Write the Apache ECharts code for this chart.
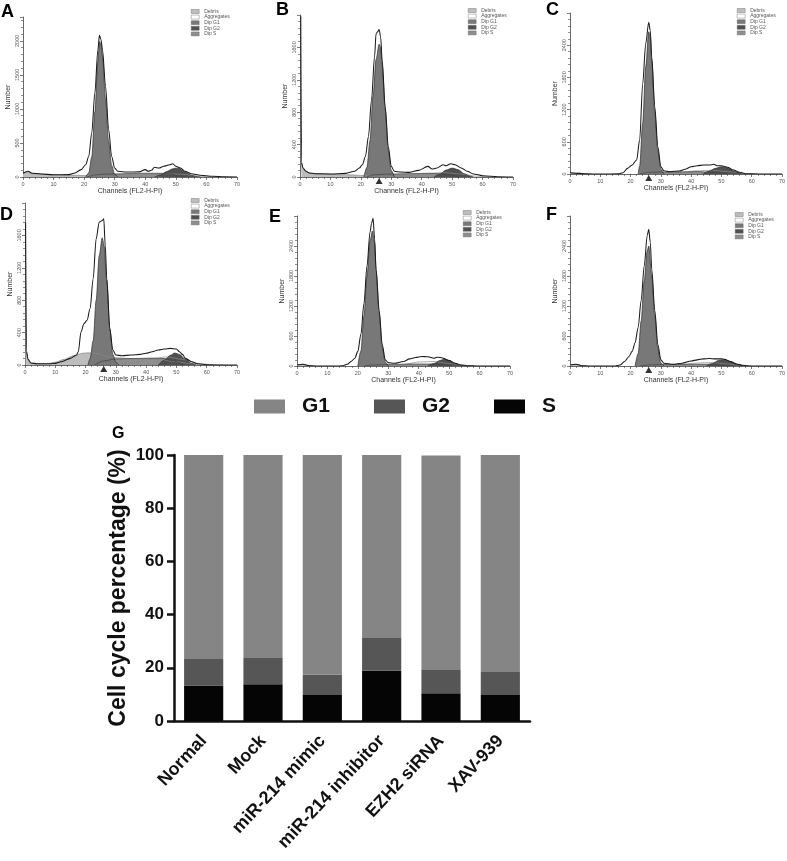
<!DOCTYPE html>
<html><head><meta charset="utf-8">
<script src="https://cdn.jsdelivr.net/npm/echarts@6/dist/echarts.min.js"></script>
<style>html,body{margin:0;padding:0;background:#fff}#c{width:787px;height:861px}</style>
</head><body><div id="c"></div><script>
// ---------- Histogram panels (channel, count) ----------
const phaseNames = ['Debris', 'Aggregates', 'Dip G1', 'Dip G2', 'Dip S'];
const panelLetters = ['A', 'B', 'C', 'D', 'E', 'F'];
const yMaxes = [2350, 2000, 3000, 2000, 3000, 3000];
const ySteps = [500, 400, 600, 400, 600, 600];

const aOutline = [[0,55],[1.6,83],[3,55],[6,45],[10,32],[15,35],[17,60],[19,108],[20.5,180],[21.5,300],[22.5,650],[23.5,1235],[24.5,1870],[25,2080],[25.5,2020],[26,1870],[27,1330],[28,700],[29,300],[30,130],[31,83],[34,73],[38,75],[40,108],[41,83],[42,98],[43,142],[44.5,132],[46,157],[48,181],[49,196],[50,157],[51.5,132],[53,83],[55,49],[58,25],[62,10],[66,3],[70,0]];
const aG1 = [[20.5,0],[21.5,60],[22.5,300],[23.5,950],[24.5,1700],[25,1990],[25.5,1950],[26,1780],[27,1150],[28,520],[29,170],[30,40],[31,0]];
const aG2 = [[43,0],[45,30],[47,80],[49,120],[50,130],[51,125],[53,75],[55,25],[57,5],[58,0]];
const aS = [[21,0],[23,25],[26,40],[30,45],[35,50],[40,55],[45,55],[48,45],[51,15],[53,0]];
const aDebris = [[0,50],[1.6,75],[3,50],[6,40],[10,30],[15,28],[20,22],[25,15],[30,8],[40,2],[45,0]];
const aAggr = [[30,0],[36,15],[42,40],[46,50],[52,40],[58,10],[62,0]];
const aMarker = [];

const bOutline = [[0.25,1990],[0.5,180],[1,110],[2,70],[3,50],[5,41],[10,37],[15,45],[18,70],[19.5,110],[20.5,152],[21.5,254],[22.5,500],[23.5,951],[24.5,1484],[25,1771],[25.5,1792],[26,1820],[26.5,1730],[27,1443],[28,869],[29,377],[30,131],[31,70],[33,62],[36,57],[39,82],[42,131],[43.5,98],[45,111],[47,152],[48,140],[49.5,164],[51,152],[53,111],[55,70],[57,37],[60,16],[65,4],[70,0]];
const bG1 = [[21,0],[22,120],[23,450],[24,1000],[25,1450],[26,1640],[26.5,1600],[27,1380],[28,830],[29,330],[30,80],[31,0]];
const bG2 = [[44,0],[46,35],[48,85],[50,110],[52,90],[54,40],[56,10],[57,0]];
const bS = [[22,0],[24,25],[28,35],[35,40],[42,45],[46,40],[49,25],[52,0]];
const bDebris = [[0.3,180],[0.5,170],[1,105],[2,65],[4,42],[8,33],[15,28],[20,20],[25,12],[30,6],[40,0]];
const bAggr = [[30,0],[36,15],[42,45],[47,55],[52,40],[58,10],[62,0]];
const bMarker = [[26,0]];

const cOutline = [[0,25],[3,12],[5,2],[10,0],[16,2],[17.5,25],[19,105],[20.5,167],[22,260],[23,631],[24,1683],[25,2426],[26,2829],[26.5,2674],[27,2179],[28,1250],[29,508],[30,136],[31,62],[33,43],[36,56],[38,87],[40,136],[42,155],[44,167],[46,167],[47.5,180],[48.5,155],[50,155],[52,124],[54,74],[56,31],[58,6],[62,0],[70,0]];
const cG1 = [[22.5,0],[23,150],[24,950],[25,2000],[26,2650],[26.5,2550],[27,2100],[28,1150],[29,420],[30,90],[31,0]];
const cG2 = [[44,0],[46,55],[48,105],[50,135],[52,110],[54,55],[56,12],[57,0]];
const cS = [[23,0],[26,30],[30,35],[36,40],[42,45],[46,35],[50,15],[52,0]];
const cDebris = [[0,25],[3,12],[5,2],[7,0]];
const cAggr = [[30,0],[36,25],[42,60],[47,70],[52,45],[58,10],[62,0]];
const cMarker = [[26,0]];

const dOutline = [[0.2,1760],[0.5,170],[1,70],[2,25],[4,15],[8,15],[10,20],[12,41],[15,82],[17,123],[17.6,164],[18.5,410],[19.5,512],[20.5,553],[21.5,697],[22.5,1066],[23.5,1558],[24.5,1763],[25.5,1784],[26,1804],[26.5,1476],[27,1066],[28,451],[29,185],[30,123],[32,115],[35,123],[38,131],[40,144],[42,164],[44,185],[46,197],[48,205],[50,197],[51,164],[52,131],[53,82],[55,41],[57,16],[60,4],[70,0]];
const dG1 = [[20.8,0],[21.5,80],[22.5,300],[23.5,800],[24.5,1350],[25.5,1570],[26,1500],[27,1050],[28,450],[29,130],[30,30],[31,0]];
const dG2 = [[44,0],[46,60],[48,120],[49.5,148],[51,130],[53,70],[55,20],[56.5,0]];
const dS = [[23,0],[26,50],[30,75],[36,80],[42,85],[46,80],[49,50],[52,0]];
const dDebris = [[0.2,170],[0.5,160],[1,60],[2,22],[5,12],[8,20],[10,35],[13,70],[16,115],[19,145],[21,150],[24,140],[27,110],[30,90],[35,80],[40,70],[45,60],[50,40],[55,15],[58,0]];
const dAggr = [[30,0],[36,30],[42,80],[47,100],[52,70],[58,15],[62,0]];
const dMarker = [[26,0]];

const eOutline = [[0,20],[2,34],[4,7],[6,0],[14,0],[15,7],[16.5,34],[18,102],[19,157],[20,293],[21,634],[22,1248],[23,1998],[24,2680],[24.5,2851],[25,2953],[25.5,2544],[26,1930],[27,1112],[28,430],[29,123],[30,68],[32,55],[35,89],[37,143],[39,171],[41,191],[43,184],[45,157],[46,177],[47,171],[48,157],[50,109],[52,55],[54,20],[56,7],[60,0],[70,0]];
const eG1 = [[20,0],[21,300],[22,1000],[23,1800],[24,2500],[24.8,2700],[25.5,2450],[26,1900],[27,1050],[28,380],[29,80],[30,0]];
const eG2 = [[43,0],[45,50],[47,110],[48.5,140],[50,110],[52,50],[54,10],[55,0]];
const eS = [[22,0],[25,20],[30,30],[38,40],[44,40],[48,25],[51,0]];
const eDebris = [[0,20],[2,34],[4,7],[6,0]];
const eAggr = [[30,0],[35,30],[40,80],[45,90],[50,50],[55,10],[58,0]];
const eMarker = [];

const fOutline = [[0,20],[2,34],[4,7],[6,0],[15,0],[16.5,20],[18,89],[19.5,191],[20.5,293],[21.5,464],[22.5,771],[23.5,1316],[24.5,1998],[25.5,2612],[26,2735],[26.5,2476],[27,1930],[28,1112],[29,430],[30,123],[31,55],[34,34],[37,55],[40,102],[42,123],[44,143],[46,150],[48,143],[50,143],[51,136],[53,89],[55,41],[57,14],[60,0],[70,0]];
const fG1 = [[21.5,0],[22.5,250],[23.5,900],[24.5,1700],[25.5,2300],[26,2400],[27,1800],[28,1000],[29,350],[30,60],[31,0]];
const fG2 = [[45,0],[47,50],[49,110],[51,130],[53,90],[55,30],[57,0]];
const fS = [[23,0],[26,20],[30,30],[40,35],[46,35],[50,15],[53,0]];
const fDebris = [[0,20],[2,34],[4,7],[6,0]];
const fAggr = [[30,0],[36,25],[42,60],[47,70],[52,40],[57,8],[60,0]];
const fMarker = [[26,0]];

// ---------- Bar chart (G) ----------
const groups = ['Normal', 'Mock', 'miR-214 mimic', 'miR-214 inhibitor', 'EZH2 siRNA', 'XAV-939'];
const sPhase = [13.3, 13.8, 9.8, 18.9, 10.4, 9.8];
const g2Phase = [10.0, 9.9, 7.6, 12.3, 8.8, 8.6];
const g1Phase = [76.7, 76.3, 82.6, 68.8, 80.6, 81.6];
const barYTicks = {min: 0, max: 100, step: 20};

// ---------- assembly ----------
const panelData = [
  {outline:aOutline, g1:aG1, g2:aG2, s:aS, debris:aDebris, aggr:aAggr, marker:aMarker},
  {outline:bOutline, g1:bG1, g2:bG2, s:bS, debris:bDebris, aggr:bAggr, marker:bMarker},
  {outline:cOutline, g1:cG1, g2:cG2, s:cS, debris:cDebris, aggr:cAggr, marker:cMarker},
  {outline:dOutline, g1:dG1, g2:dG2, s:dS, debris:dDebris, aggr:dAggr, marker:dMarker},
  {outline:eOutline, g1:eG1, g2:eG2, s:eS, debris:eDebris, aggr:eAggr, marker:eMarker},
  {outline:fOutline, g1:fG1, g2:fG2, s:fS, debris:fDebris, aggr:fAggr, marker:fMarker}
];
const boxes = [
  {left:23, top:17, width:214, height:160, lgL:191, lgT:9, ltL:1, ltT:3},
  {left:300, top:15, width:213, height:162, lgL:468, lgT:8, ltL:276, ltT:1},
  {left:570, top:13, width:212, height:161, lgL:737, lgT:8, ltL:546, ltT:1},
  {left:25, top:203, width:212, height:162, lgL:191, lgT:198, ltL:0, ltT:206},
  {left:297, top:216, width:213, height:150, lgL:463, lgT:210, ltL:269, ltT:208},
  {left:570, top:216, width:212, height:150, lgL:735, lgT:212, ltL:546, ltT:206}
];
const FONT = 'Liberation Sans, Arial, Helvetica, sans-serif';
const phaseStyle = {
  'Debris': {fill:'#bdbdbd', line:'#8a8a8a'},
  'Aggregates': {fill:'#ffffff', line:'#8a8a8a'},
  'Dip G1': {fill:'#787878', line:'#2e2e2e'},
  'Dip G2': {fill:'#505050', line:'#2e2e2e'},
  'Dip S': {fill:'#8e8e8e', line:'#444444'}
};

const grids = [], xAxes = [], yAxes = [], series = [], legends = [], titles = [];
const axisCol = '#444';
boxes.forEach((b, i) => {
  grids.push({left:b.left, top:b.top, width:b.width, height:b.height, outerBoundsMode:'none', containLabel:false});
  xAxes.push({type:'value', gridIndex:i, min:0, max:70, interval:10,
    axisLine:{lineStyle:{color:axisCol, width:0.8}},
    axisTick:{length:3, lineStyle:{color:axisCol, width:0.7}},
    minorTick:{show:true, splitNumber:5, length:2, lineStyle:{color:axisCol, width:0.6}},
    splitLine:{show:false},
    axisLabel:{fontSize:5.5, color:'#555', margin:4, fontFamily:FONT},
    name:'Channels (FL2-H-PI)', nameLocation:'middle', nameGap:11,
    nameTextStyle:{fontSize:7, color:'#333', fontFamily:FONT}});
  const step = ySteps[i];
  yAxes.push({type:'value', gridIndex:i, min:0, max:yMaxes[i], interval:step,
    axisLine:{show:true, lineStyle:{color:axisCol, width:0.8}},
    axisTick:{show:true, length:3, lineStyle:{color:axisCol, width:0.7}},
    minorTick:{show:true, splitNumber:5, length:2, lineStyle:{color:axisCol, width:0.6}},
    splitLine:{show:false},
    axisLabel:{fontSize:5.5, color:'#555', margin:3, rotate:90, showMaxLabel:false, fontFamily:FONT,
      formatter: v => (v % step === 0 && v !== yMaxes[i]) ? String(v) : ''},
    name:'Number', nameLocation:'middle', nameGap:11,
    nameTextStyle:{fontSize:7, color:'#333', fontFamily:FONT}});
  const d = panelData[i];
  const order = [['Debris', d.debris], ['Aggregates', d.aggr], ['Dip S', d.s], ['Dip G1', d.g1], ['Dip G2', d.g2]];
  order.forEach(([nm, arr]) => {
    const st = phaseStyle[nm];
    series.push({type:'line', name:nm, data:arr, xAxisIndex:i, yAxisIndex:i,
      smooth:0.3, smoothMonotone:'x', symbol:'none', silent:true,
      lineStyle:{color:st.line, width:0.7}, itemStyle:{color:st.fill},
      areaStyle:{color:st.fill, opacity:1}});
  });
  series.push({type:'line', name:'Data', data:d.outline, xAxisIndex:i, yAxisIndex:i,
    smooth:0.3, smoothMonotone:'x', symbol:'none', silent:true,
    lineStyle:{color:'#1a1a1a', width:1.05}, itemStyle:{color:'#1a1a1a'}});
  series.push({type:'scatter', name:'marker', data:d.marker, xAxisIndex:i, yAxisIndex:i,
    symbol:'triangle', symbolSize:[7,6], symbolOffset:[0,4], clip:false, silent:true,
    itemStyle:{color:'#000'}});
  legends.push({data:phaseNames, orient:'vertical', left:b.lgL, top:b.lgT, padding:0,
    itemWidth:8, itemHeight:4, itemGap:0.6, icon:'rect', selectedMode:false,
    itemStyle:{borderColor:'#666', borderWidth:0.4},
    textStyle:{fontSize:5, lineHeight:5, color:'#555', fontFamily:FONT}});
  titles.push({text:panelLetters[i], left:b.ltL, top:b.ltT, padding:0,
    textStyle:{fontSize:18, fontWeight:'bold', color:'#000', fontFamily:FONT}});
});

// Bar chart (grid 6)
grids.push({left:174, top:455, width:356, height:266, outerBoundsMode:'none', containLabel:false});
xAxes.push({type:'category', gridIndex:6, data:groups,
  axisLine:{lineStyle:{color:'#111', width:2.5}},
  axisTick:{alignWithLabel:true, length:7, lineStyle:{color:'#111', width:2.5}},
  axisLabel:{rotate:47, interval:0, fontSize:18, fontWeight:'bold', color:'#111', margin:17, fontFamily:FONT}});
yAxes.push({type:'value', gridIndex:6, min:barYTicks.min, max:barYTicks.max, interval:barYTicks.step,
  axisLine:{show:true, lineStyle:{color:'#111', width:2.5}},
  axisTick:{show:true, length:7, lineStyle:{color:'#111', width:2.5}},
  splitLine:{show:false},
  axisLabel:{fontSize:17, fontWeight:'bold', color:'#111', margin:10, fontFamily:FONT},
  name:'Cell cycle percentage (%)', nameLocation:'middle', nameGap:44,
  nameTextStyle:{fontSize:23, fontWeight:'bold', color:'#111', fontFamily:FONT}});
const barCols = {S:'#050505', G2:'#565656', G1:'#858585'};
[['S', sPhase], ['G2', g2Phase], ['G1', g1Phase]].forEach(([nm, arr]) => {
  series.push({type:'bar', name:nm, stack:'cycle', data:arr, xAxisIndex:6, yAxisIndex:6,
    barCategoryGap:'34%', silent:true, itemStyle:{color:barCols[nm]}});
});
legends.push({data:['G1', 'G2', 'S'], left:254, top:396, padding:0, itemWidth:31, itemHeight:14,
  itemGap:44, icon:'rect', selectedMode:false,
  textStyle:{fontSize:21, fontWeight:'bold', color:'#111', fontFamily:FONT, padding:[0,0,0,12]}});
titles.push({text:'G', left:112, top:426, padding:0,
  textStyle:{fontSize:16, fontWeight:'bold', color:'#000', fontFamily:FONT}});

const chart = echarts.init(document.getElementById('c'), null, {renderer:'canvas'});
chart.setOption({
  animation:false, backgroundColor:'#fff',
  title:titles, legend:legends, grid:grids, xAxis:xAxes, yAxis:yAxes, series:series
});
</script></body></html>
